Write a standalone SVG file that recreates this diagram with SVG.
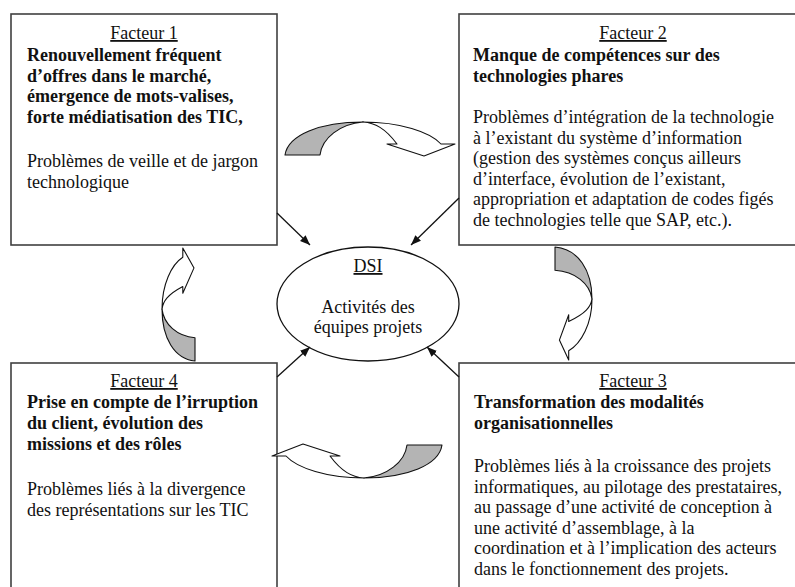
<svg xmlns="http://www.w3.org/2000/svg" width="795" height="587" viewBox="0 0 795 587">
<defs>
<style>
.box{fill:#fff;stroke:#404040;stroke-width:1.6}
text{font-family:"Liberation Serif","Times New Roman",serif;font-size:18px;fill:#111}
.b{font-weight:bold}
.t{text-anchor:middle;text-decoration:underline}
.ln{stroke:#111;stroke-width:1.3;fill:none;marker-end:url(#ah)}
.g{fill:#b4b4b4;stroke:#111;stroke-width:1.1;stroke-linejoin:round}
.w{fill:#fff;stroke:#111;stroke-width:1.1;stroke-linejoin:round}
</style>
<marker id="ah" viewBox="0 0 10 10" refX="10" refY="5" markerWidth="10" markerHeight="10" markerUnits="userSpaceOnUse" orient="auto">
<path d="M0,1 L10,5 L0,9 Z" fill="#111"/>
</marker>
</defs>
<rect width="795" height="587" fill="#fff"/>

<g id="facteur1">
<rect class="box" x="11" y="14" width="266" height="231"/>
<text class="t" x="144" y="39">Facteur 1</text>
<text class="b" x="27" y="61">Renouvellement fréquent</text>
<text class="b" x="27" y="81.5">d’offres dans le marché,</text>
<text class="b" x="27" y="102">émergence de mots-valises,</text>
<text class="b" x="27" y="122.5">forte médiatisation des TIC,</text>
<text x="27" y="167">Problèmes de veille et de jargon</text>
<text x="27" y="187.5">technologique</text>
</g>

<g id="facteur2">
<rect class="box" x="459" y="14" width="348" height="231"/>
<text class="t" x="633" y="39">Facteur 2</text>
<text class="b" x="473" y="61">Manque de compétences sur des</text>
<text class="b" x="473" y="81.5">technologies phares</text>
<text x="473" y="123">Problèmes d’intégration de la technologie</text>
<text x="473" y="143.5">à l’existant du système d’information</text>
<text x="473" y="164">(gestion des systèmes conçus ailleurs</text>
<text x="473" y="184.5">d’interface, évolution de l’existant,</text>
<text x="473" y="205">appropriation et adaptation de codes figés</text>
<text x="473" y="225.5">de technologies telle que SAP, etc.).</text>
</g>

<g id="facteur4">
<rect class="box" x="11" y="363" width="266" height="240"/>
<text class="t" x="144" y="387">Facteur 4</text>
<text class="b" x="27" y="408">Prise en compte de l’irruption</text>
<text class="b" x="27" y="429">du client, évolution des</text>
<text class="b" x="27" y="450">missions et des rôles</text>
<text x="27" y="495">Problèmes liés à la divergence</text>
<text x="27" y="516">des représentations sur les TIC</text>
</g>

<g id="facteur3">
<rect class="box" x="459" y="363" width="348" height="240"/>
<text class="t" x="633" y="387">Facteur 3</text>
<text class="b" x="474" y="408">Transformation des modalités</text>
<text class="b" x="474" y="429">organisationnelles</text>
<text x="474" y="472">Problèmes liés à la croissance des projets</text>
<text x="474" y="492.5">informatiques, au pilotage des prestataires,</text>
<text x="474" y="513">au passage d’une activité de conception à</text>
<text x="474" y="533.5">une activité d’assemblage, à la</text>
<text x="474" y="554">coordination et à l’implication des acteurs</text>
<text x="474" y="574.5">dans le fonctionnement des projets.</text>
</g>

<g id="dsi">
<ellipse cx="368" cy="304" rx="91" ry="57" fill="#fff" stroke="#111" stroke-width="1.3"/>
<text class="t" x="368" y="272">DSI</text>
<text x="368" y="313" text-anchor="middle">Activités des</text>
<text x="368" y="333" text-anchor="middle">équipes projets</text>
</g>

<g id="connectors">
<line class="ln" x1="277" y1="213" x2="310" y2="245"/>
<line class="ln" x1="459" y1="198" x2="411" y2="245"/>
<line class="ln" x1="277" y1="377" x2="310" y2="347"/>
<line class="ln" x1="459" y1="377" x2="427" y2="347"/>

<g id="curve-top">
<path class="g" d="M285,155 C288,135 320,122 363,122 C340,124 322,138 320,155 Z"/>
<path class="w" d="M363,122 C400,122 430,132 441,144 L455,144 L424,156 L387,144 L397,144 C385,128 375,123 363,122 Z"/>
</g>
<g id="curve-bottom">
<path class="g" d="M442,445 C439,465 407,478 364,478 C387,476 405,462 407,445 Z"/>
<path class="w" d="M364,478 C327,478 297,468 286,456 L272,456 L303,444 L340,456 L330,456 C342,472 352,477 364,478 Z"/>
</g>
<g id="curve-right">
<path class="g" d="M555,247 C578.3,249 592,270.3 592,298.9 C589.9,283.6 575.1,271.6 555,270.3 Z"/>
<path class="w" d="M592,298.9 C592,323.4 581.4,343.4 568.7,350.7 L568.7,360 L559.4,340.1 L568.7,314.8 L568.7,321.5 C585.7,313.4 590.9,306.8 592,298.9 Z"/>
</g>
<g id="curve-left">
<path class="g" d="M195,361 C174.2,359 162,337.7 162,309.1 C163.9,324.4 177.1,336.4 195,337.7 Z"/>
<path class="w" d="M162,309.1 C162,284.6 171.4,264.6 182.8,257.3 L182.8,248 L194,267.9 L182.8,293.2 L182.8,286.5 C167.6,294.6 163,301.2 162,309.1 Z"/>
</g>
</g>
</svg>
